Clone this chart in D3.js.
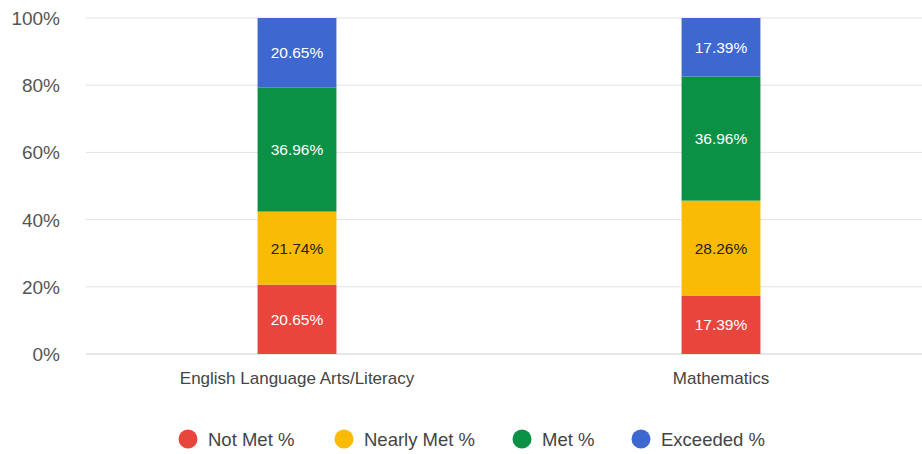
<!DOCTYPE html>
<html>
<head>
<meta charset="utf-8">
<script src="https://cdn.jsdelivr.net/npm/d3@7"></script>
<style>
  body { margin: 0; background: #fff; }
  svg { display: block; font-family: "Liberation Sans", Arial, sans-serif; }
</style>
</head>
<body>
<svg id="chart" width="922" height="454"></svg>
<script>
// ── Datos ──
const subjects = ["English Language Arts/Literacy", "Mathematics"];
const seriesNames = ["Not Met %", "Nearly Met %", "Met %", "Exceeded %"];
const notMet     = [20.65, 17.39];
const nearlyMet  = [21.74, 28.26];
const met        = [36.96, 36.96];
const exceeded   = [20.65, 17.39];
const yTicks     = [0, 20, 40, 60, 80, 100];

const colors = ["#e8453c", "#f9bb06", "#0b9146", "#3f67d0"];
const labelColors = ["#ffffff", "#222222", "#ffffff", "#ffffff"];

const W = 922, H = 454;
const svg = d3.select("#chart");

const rows = subjects.map((s, i) => ({
  subject: s,
  "Not Met %": notMet[i],
  "Nearly Met %": nearlyMet[i],
  "Met %": met[i],
  "Exceeded %": exceeded[i],
}));
const stacked = d3.stack().keys(seriesNames)(rows);

const x = d3.scaleBand().domain(subjects).range([85, 933])
  .paddingInner(0.814).paddingOuter(0.407);
const y = d3.scaleLinear().domain([0, 100]).range([354, 18]);

// ── Grid ──
svg.append("g").selectAll("line")
  .data(yTicks).join("line")
  .attr("x1", 86).attr("x2", W)
  .attr("y1", d => y(d)).attr("y2", d => y(d))
  .attr("stroke", d => d === 0 ? "#cfcfcf" : "#e3e3e3")
  .attr("stroke-width", 1);

// ── Eje Y ──
svg.append("g").selectAll("text")
  .data(yTicks).join("text")
  .attr("x", 60).attr("y", d => y(d) + 7)
  .attr("text-anchor", "end")
  .attr("font-size", 19).attr("fill", "#555")
  .text(d => d + "%");

// ── Barras ──
const layers = svg.append("g").selectAll("g")
  .data(stacked).join("g")
  .attr("fill", (d, i) => colors[i]);

layers.selectAll("rect")
  .data(d => d).join("rect")
  .attr("x", d => x(d.data.subject))
  .attr("width", x.bandwidth())
  .attr("y", d => y(d[1]))
  .attr("height", d => y(d[0]) - y(d[1]));

layers.each(function(layer, i) {
  d3.select(this).selectAll("text")
    .data(layer).join("text")
    .attr("x", d => x(d.data.subject) + x.bandwidth() / 2)
    .attr("y", d => (y(d[0]) + y(d[1])) / 2 + 5.5)
    .attr("text-anchor", "middle")
    .attr("font-size", 15.5)
    .attr("fill", labelColors[i])
    .text(d => (d[1] - d[0]).toFixed(2) + "%");
});

// ── Eje X ──
svg.append("g").selectAll("text")
  .data(subjects).join("text")
  .attr("x", d => x(d) + x.bandwidth() / 2)
  .attr("y", 384)
  .attr("text-anchor", "middle")
  .attr("font-size", 17).attr("fill", "#444")
  .text(d => d);

// ── Leyenda ──
const legendX = [188, 344, 522, 641];
const legend = svg.append("g").selectAll("g")
  .data(seriesNames).join("g")
  .attr("transform", (d, i) => `translate(${legendX[i]},439)`);
legend.append("circle").attr("r", 9.5).attr("fill", (d, i) => colors[i]);
legend.append("text")
  .attr("x", 20).attr("y", 6.5)
  .attr("font-size", 18.5).attr("fill", "#444")
  .text(d => d);
</script>
</body>
</html>
